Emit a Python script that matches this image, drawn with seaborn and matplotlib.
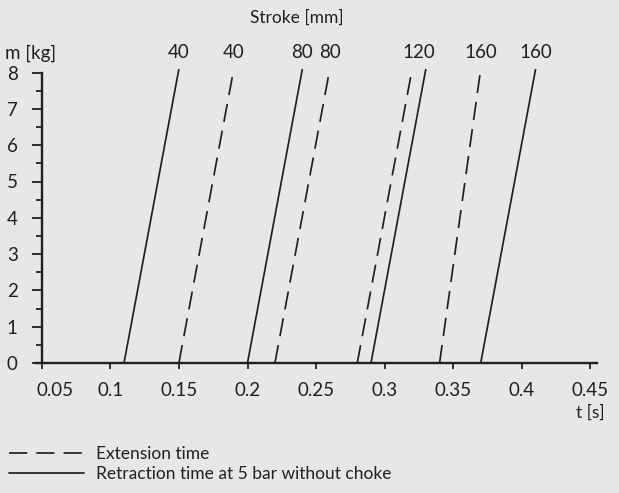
import matplotlib
matplotlib.use("Agg")
import matplotlib.pyplot as plt
import matplotlib.transforms as mtransforms
from matplotlib.lines import Line2D
from matplotlib.ticker import FixedLocator, MultipleLocator
import pandas as pd
import seaborn as sns

# Stroke length [mm] and movement type of each characteristic line
strokes = [40, 40, 80, 80, 120, 120, 160, 160]
kinds = ["Retraction", "Extension", "Retraction", "Extension",
         "Extension", "Retraction", "Extension", "Retraction"]
# Time [s] at zero load and at the top of the mass range
t_no_load = [0.11, 0.15, 0.20, 0.22, 0.28, 0.29, 0.34, 0.37]
t_full_load = [0.15, 0.19, 0.24, 0.26, 0.32, 0.33, 0.37, 0.41]
mass_range = [0.0, 8.1]

# Axis ticks
x_ticks = [0.05, 0.10, 0.15, 0.20, 0.25, 0.30, 0.35, 0.40, 0.45]
x_tick_labels = ["0.05", "0.1", "0.15", "0.2", "0.25", "0.3", "0.35", "0.4", "0.45"]
y_ticks = [0, 1, 2, 3, 4, 5, 6, 7, 8]

legend_labels = {"Extension": "Extension time",
                 "Retraction": "Retraction time at 5 bar without choke"}

INK = "#231f20"
BG = "#e6e7e9"
DASH = (10.5, 5.2)
LW = 1.25

rows = []
for i, (s, k, t0, t1) in enumerate(zip(strokes, kinds, t_no_load, t_full_load)):
    rows.append({"line": i, "stroke": s, "kind": k, "t": t0, "m": mass_range[0]})
    rows.append({"line": i, "stroke": s, "kind": k, "t": t1, "m": mass_range[1]})
df = pd.DataFrame(rows)

sns.set_theme(style="ticks")
plt.rcParams["font.family"] = ["Lato", "DejaVu Sans"]
plt.rcParams["font.weight"] = "normal"
plt.rcParams["font.size"] = 13
plt.rcParams["text.color"] = INK
plt.rcParams["xtick.color"] = INK
plt.rcParams["ytick.color"] = INK

fig = plt.figure(figsize=(6.19, 4.93), dpi=100, facecolor=BG)
px_t = 68.6 / 0.05          # pixels per second on the time axis
px_m = 36.3                 # pixels per kg on the mass axis
x_lo = 0.05 - 5.7 / px_t
x_hi = 0.45 + 6.5 / px_t
ax = fig.add_axes([(41.7 - 5.7) / 619, (493 - 363) / 493,
                   (x_hi - x_lo) * px_t / 619, mass_range[1] * px_m / 493])
ax.set_facecolor(BG)

sns.lineplot(data=df, x="t", y="m", units="line", style="kind",
             estimator=None, sort=False, color=INK, linewidth=LW,
             dashes={"Extension": DASH, "Retraction": ""},
             legend=False, ax=ax)

ax.set_xlim(x_lo, x_hi)
ax.set_ylim(0, mass_range[1])

for side in ("top", "right"):
    ax.spines[side].set_visible(False)
ax.spines["left"].set_position(("data", 0.05))
ax.spines["left"].set_bounds(0, 8)
for side in ("left", "bottom"):
    ax.spines[side].set_linewidth(1.7)
    ax.spines[side].set_color(INK)

ax.xaxis.set_major_locator(FixedLocator(x_ticks))
ax.set_xticklabels(x_tick_labels)
ax.yaxis.set_major_locator(FixedLocator(y_ticks))
ax.yaxis.set_minor_locator(MultipleLocator(0.5))
ax.tick_params(axis="x", direction="out", length=4.5, width=1.3, pad=9,
               labelsize=13.5)
ax.tick_params(axis="y", which="major", direction="out", length=7.3,
               width=1.3, pad=10, labelsize=13.5)
ax.tick_params(axis="y", which="minor", direction="out", length=4.3,
               width=1.3)
ax.set_xlabel("")
ax.set_ylabel("")

# Keep the first time label clear of the mass axis
first = ax.get_xticklabels()[0]
first.set_horizontalalignment("left")
first.set_transform(first.get_transform() +
                    mtransforms.ScaledTranslation(-0.05, 0, fig.dpi_scale_trans))

# Stroke labels above the line tops; nearly coincident tops share one label
groups = {}
for s, t1 in zip(strokes, t_full_load):
    groups.setdefault(s, []).append(t1)
for s, tops in groups.items():
    tops = sorted(tops)
    if tops[-1] - tops[0] < 0.02:
        spots = [sum(tops) / len(tops)]
    else:
        spots = tops
    for t in spots:
        ax.annotate(str(s), xy=(t, mass_range[1]), xytext=(0, 6),
                    textcoords="offset points", ha="center", va="bottom",
                    fontsize=13.5, annotation_clip=False)

fig.text(297 / 619, 1 - 18 / 493, "Stroke [mm]", ha="center", va="center",
         fontsize=12.5)
fig.text(5 / 619, 1 - 53 / 493, "m [kg]", ha="left", va="center",
         fontsize=13.5)
fig.text(605 / 619, 1 - 413 / 493, "t [s]", ha="right", va="center",
         fontsize=12.5)

handles = [Line2D([], [], color=INK, linewidth=LW, dashes=DASH),
           Line2D([], [], color=INK, linewidth=LW)]
fig.legend(handles, [legend_labels["Extension"], legend_labels["Retraction"]],
           loc="lower left", bbox_to_anchor=(2 / 619, 4 / 493),
           frameon=False, fontsize=12.5, handlelength=4.3,
           handletextpad=0.7, labelspacing=0.25, borderaxespad=0)

fig.savefig("out.png", dpi=100, facecolor=BG)
